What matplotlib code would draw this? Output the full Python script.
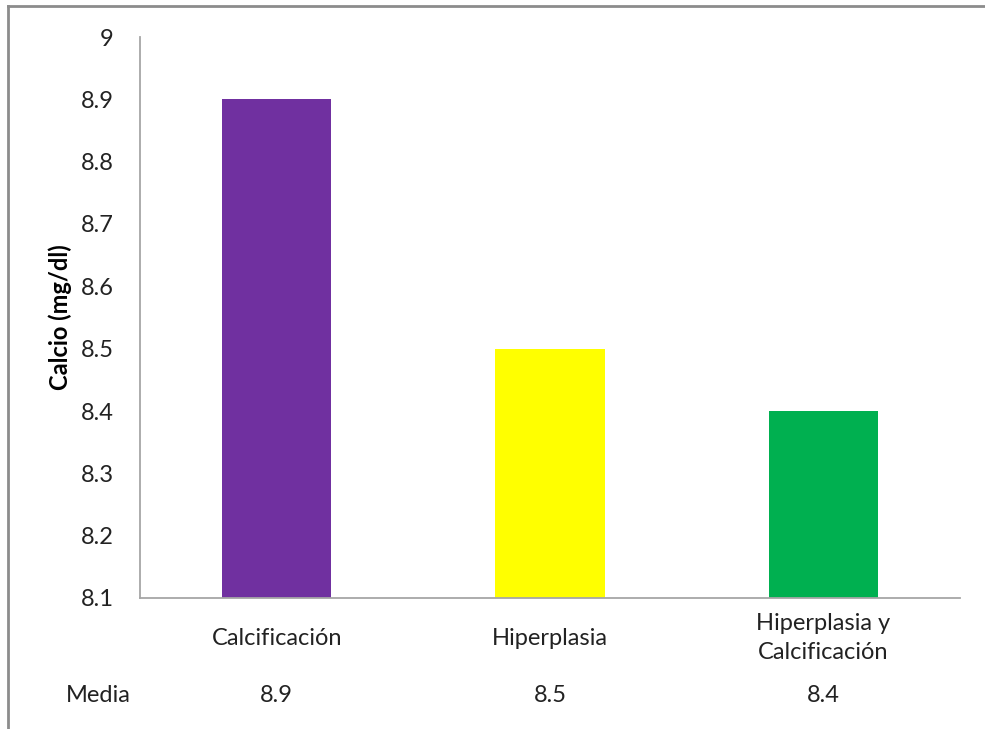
import matplotlib
matplotlib.use("Agg")
import matplotlib.pyplot as plt
from matplotlib.lines import Line2D

categories = ["Calcificación", "Hiperplasia", "Hiperplasia y\nCalcificación"]
values = [8.9, 8.5, 8.4]
media_labels = ["8.9", "8.5", "8.4"]
colors = ["#7030A0", "#FFFF00", "#00B050"]
yticks = [8.1, 8.2, 8.3, 8.4, 8.5, 8.6, 8.7, 8.8, 8.9, 9.0]
ytick_labels = ["8.1", "8.2", "8.3", "8.4", "8.5", "8.6", "8.7", "8.8", "8.9", "9"]

plt.rcParams["font.family"] = ["Lato", "DejaVu Sans"]
FS = 17
TXT = "#222222"

W, H = 985, 729
fig = plt.figure(figsize=(W / 100, H / 100), dpi=100)
ax = fig.add_axes([140 / W, 1 - 598 / H, 820 / W, (598 - 37) / H])

x = list(range(len(categories)))
ax.bar(x, [v - 8.1 for v in values], bottom=8.1, width=0.40, color=colors)
ax.set_xlim(-0.5, len(categories) - 0.5)
ax.set_ylim(8.1, 9.0)
ax.set_yticks(yticks)
ax.set_yticklabels(ytick_labels, fontsize=FS, color=TXT)
ax.tick_params(axis="y", length=0, pad=19)
ax.set_xticks(x)
ax.set_xticklabels(categories, fontsize=FS, color=TXT, linespacing=1.45, va="center")
ax.tick_params(axis="x", length=0, pad=29)

for s in ["top", "right"]:
    ax.spines[s].set_visible(False)
for s in ["left", "bottom"]:
    ax.spines[s].set_color("#A6A6A6")
    ax.spines[s].set_linewidth(1.3)

ax.set_ylabel("Calcio (mg/dl)", fontsize=FS, fontweight="bold", va="center")
ax.yaxis.set_label_coords((60 - 140) / 820, 0.5)

# Data-table row with the mean values
fig.text(98 / W, 1 - 696 / H, "Media", fontsize=FS, ha="center", va="center", color=TXT)
for xi, lab in zip(x, media_labels):
    xf = ax.transData.transform((xi, 0))[0] / W
    fig.text(xf, 1 - 696 / H, lab, fontsize=FS, ha="center", va="center", color=TXT)

# Chart area frame (top and left edges)
fig.add_artist(Line2D([7.5 / W, 1], [1 - 6 / H, 1 - 6 / H], transform=fig.transFigure,
                      color="#8C8C8C", linewidth=2))
fig.add_artist(Line2D([7.5 / W, 7.5 / W], [0, 1 - 6 / H], transform=fig.transFigure,
                      color="#8C8C8C", linewidth=2))

fig.savefig("out.png", dpi=100)
